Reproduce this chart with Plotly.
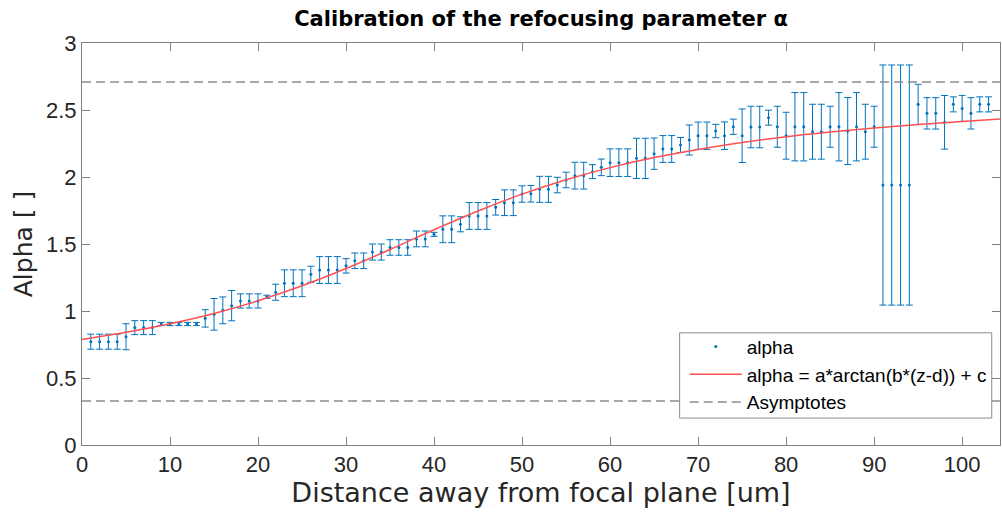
import plotly.graph_objects as go

# ---- data ----
z = [1, 2, 3, 4, 5, 6, 7, 8, 9, 10, 11, 12, 13, 14, 15, 16, 17, 18, 19, 20,
     21, 22, 23, 24, 25, 26, 27, 28, 29, 30, 31, 32, 33, 34, 35, 36, 37, 38, 39, 40,
     41, 42, 43, 44, 45, 46, 47, 48, 49, 50, 51, 52, 53, 54, 55, 56, 57, 58, 59, 60,
     61, 62, 63, 64, 65, 66, 67, 68, 69, 70, 71, 72, 73, 74, 75, 76, 77, 78, 79, 80,
     81, 82, 83, 84, 85, 86, 87, 88, 89, 90, 91, 92, 93, 94, 95, 96, 97, 98, 99, 100,
     101, 102, 103]

alpha = [0.771, 0.771, 0.771, 0.771, 0.808, 0.876, 0.876, 0.876, 0.903, 0.903,
         0.903, 0.903, 0.903, 0.945, 0.975, 1.005, 1.040, 1.075, 1.075, 1.075,
         1.106, 1.140, 1.207, 1.207, 1.207, 1.274, 1.306, 1.306, 1.306, 1.337,
         1.375, 1.375, 1.440, 1.440, 1.474, 1.474, 1.474, 1.538, 1.538, 1.572,
         1.610, 1.610, 1.647, 1.709, 1.709, 1.709, 1.774, 1.808, 1.808, 1.873,
         1.875, 1.908, 1.908, 1.940, 1.978, 2.010, 2.010, 2.040, 2.072, 2.107,
         2.107, 2.107, 2.139, 2.139, 2.174, 2.209, 2.209, 2.239, 2.276, 2.308,
         2.308, 2.343, 2.308, 2.375, 2.308, 2.373, 2.373, 2.443, 2.375, 2.308,
         2.375, 2.375, 2.338, 2.338, 2.375, 2.375, 2.343, 2.375, 2.338, 2.375,
         1.940, 1.940, 1.940, 1.940, 2.542, 2.475, 2.475, 2.408, 2.542, 2.512,
         2.475, 2.542, 2.542]

alpha_err = [0.056, 0.056, 0.056, 0.056, 0.097, 0.052, 0.052, 0.052, 0.012, 0.012,
             0.012, 0.012, 0.012, 0.065, 0.118, 0.100, 0.113, 0.053, 0.053, 0.053,
             0.012, 0.060, 0.100, 0.100, 0.100, 0.060, 0.100, 0.100, 0.100, 0.054,
             0.058, 0.058, 0.060, 0.060, 0.058, 0.058, 0.058, 0.059, 0.059, 0.015,
             0.100, 0.100, 0.056, 0.100, 0.100, 0.100, 0.058, 0.096, 0.096, 0.061,
             0.062, 0.097, 0.097, 0.058, 0.058, 0.100, 0.100, 0.052, 0.062, 0.103,
             0.103, 0.103, 0.150, 0.150, 0.117, 0.100, 0.100, 0.056, 0.112, 0.102,
             0.102, 0.050, 0.103, 0.057, 0.200, 0.155, 0.155, 0.056, 0.153, 0.175,
             0.255, 0.255, 0.205, 0.205, 0.153, 0.255, 0.250, 0.255, 0.205, 0.153,
             0.896, 0.896, 0.896, 0.896, 0.150, 0.117, 0.117, 0.200, 0.056, 0.097,
             0.117, 0.056, 0.056]

# fitted curve
fit_z = [0, 5, 10, 15, 20, 25, 30, 35, 40, 45, 50, 55, 60, 65, 70, 75, 80, 85,
         90, 95, 100, 104.3]
fit_alpha = [0.788, 0.841, 0.905, 0.982, 1.076, 1.188, 1.317, 1.459, 1.606, 1.746,
             1.872, 1.980, 2.070, 2.145, 2.206, 2.257, 2.300, 2.335, 2.366, 2.392,
             2.415, 2.432]

asym_values = [0.328, 2.709]
x_range = [0, 104.3]

x_ticks = [0, 10, 20, 30, 40, 50, 60, 70, 80, 90, 100]
y_ticks = [0, 0.5, 1, 1.5, 2, 2.5, 3]

FONT = "Liberation Sans, Arial, sans-serif"
WIDE = "DejaVu Sans, Verdana, sans-serif"
BLUE = "#0072BD"
AXIS = "#808080"

fig = go.Figure()

fig.add_trace(go.Scatter(
    x=z, y=alpha, mode="markers", name="alpha",
    marker=dict(color=BLUE, size=3),
    error_y=dict(type="data", array=alpha_err, visible=True,
                 color=BLUE, thickness=1, width=3.5),
))

fig.add_trace(go.Scatter(
    x=fit_z, y=fit_alpha, mode="lines", line_shape="spline",
    name="alpha = a*arctan(b*(z-d)) + c",
    line=dict(color="#ff5050", width=1.5),
))

for i, v in enumerate(asym_values):
    fig.add_trace(go.Scatter(
        x=x_range, y=[v, v], mode="lines", name="Asymptotes",
        showlegend=(i == 0), legendgroup="asym",
        line=dict(color="#8c8c8c", width=1.6, dash="9px,5px"),
    ))

# legend frame (paper coordinates of the plot area)
fig.add_shape(type="rect", xref="paper", yref="paper",
              x0=0.651, x1=0.991, y0=0.067, y1=0.279,
              fillcolor="white", line=dict(color="#8c8c8c", width=1),
              layer="above")

fig.update_layout(
    width=1002, height=514,
    margin=dict(l=82, r=2, t=43, b=69),
    paper_bgcolor="white", plot_bgcolor="white",
    font=dict(family=FONT, color="#262626", size=19),
    title=dict(text="<b>Calibration of the refocusing parameter α</b>",
               x=0.5, xanchor="center", xref="paper",
               y=1 - 19 / 514, yanchor="middle", yref="container",
               font=dict(size=21, family=WIDE, color="#000000")),
    showlegend=True,
    legend=dict(x=0.991, xanchor="right", y=0.058, yanchor="bottom",
                bgcolor="rgba(0,0,0,0)", borderwidth=0,
                font=dict(size=19, family=FONT, color="#000000"),
                tracegroupgap=0, itemwidth=52),
)

fig.update_xaxes(
    range=x_range, tickvals=x_ticks, ticks="inside", ticklen=8,
    tickcolor=AXIS, showline=True, linecolor=AXIS, linewidth=1,
    mirror="ticks", showgrid=False, zeroline=False,
    tickfont=dict(size=22, family=FONT, color="#262626"),
    title=dict(text="Distance away from focal plane [um]", standoff=4,
               font=dict(size=27, family=WIDE, color="#262626")),
)
fig.update_yaxes(
    range=[0, 3], tickvals=y_ticks, ticks="inside", ticklen=8,
    tickcolor=AXIS, showline=True, linecolor=AXIS, linewidth=1,
    mirror="ticks", showgrid=False, zeroline=False,
    tickfont=dict(size=22, family=FONT, color="#262626"),
    title=dict(text="Alpha [ ]", standoff=6,
               font=dict(size=25, family=WIDE, color="#262626")),
)

fig.write_html("out.html")
